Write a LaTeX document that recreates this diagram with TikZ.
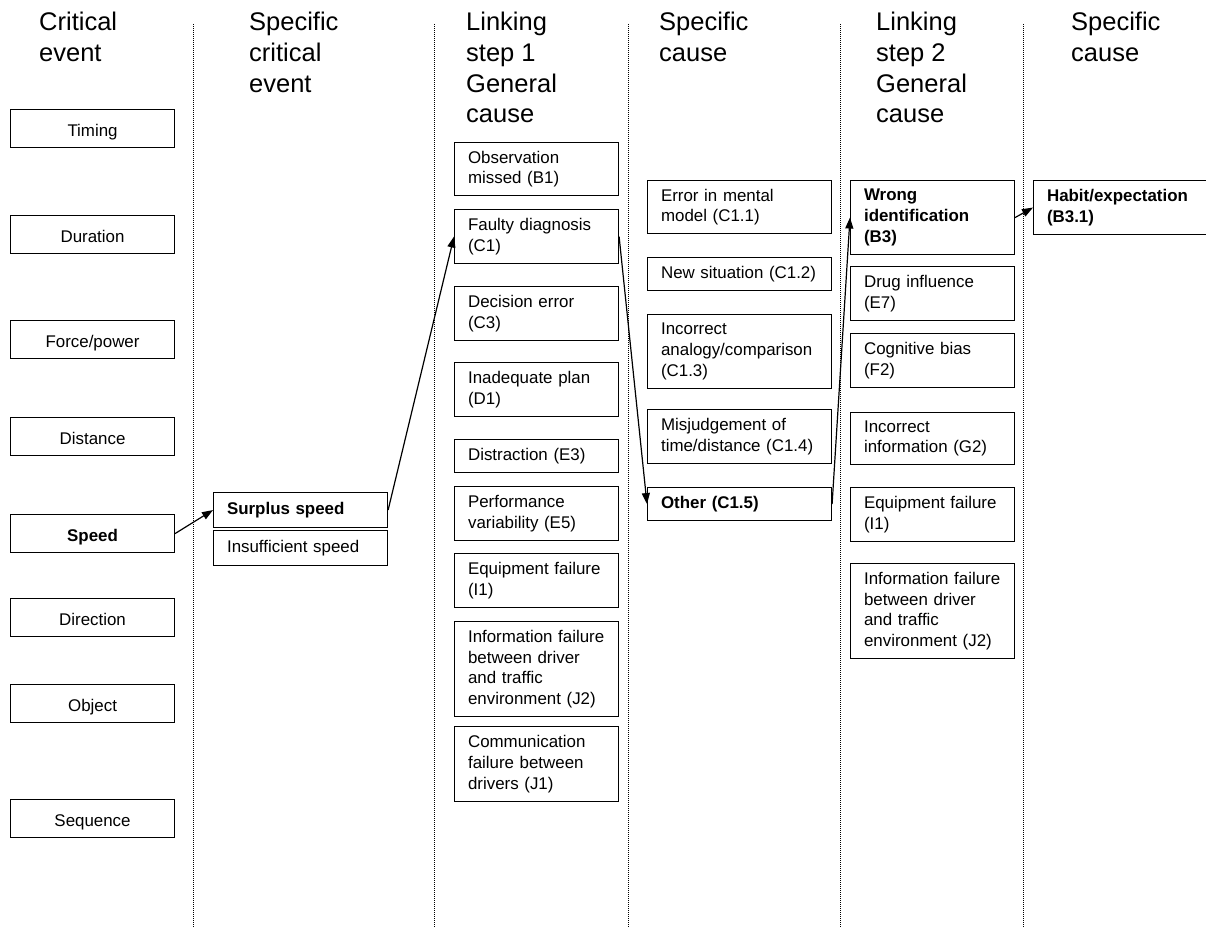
\documentclass[tikz,border=0pt]{standalone}
\usepackage{fontspec}
\setmainfont{Liberation Sans}
\usetikzlibrary{arrows.meta,positioning}
\newcommand{\boxfont}{\fontsize{16.9}{20.7}\selectfont}
\newcommand{\headfont}{\fontsize{25.5}{30.7}\selectfont}
\tikzset{
  head/.style={anchor=north west,align=left,inner sep=0pt,font=\headfont},
  event/.style={draw,line width=1.1pt,anchor=north west,minimum width=164pt,minimum height=38pt,inner sep=0pt,text height=17pt,text depth=2pt,font=\boxfont},
  cause/.style={draw,line width=1.1pt,anchor=north west,align=left,inner xsep=13.5pt,inner ysep=0pt,text width=#1,font=\boxfont},
  cause/.default=137pt,
  divider/.style={line width=1pt,dash pattern=on 1pt off 1pt},
  link/.style={-{Triangle[length=11pt,width=8pt]},line width=1.2pt}
}

\begin{document}
\begin{tikzpicture}[x=1pt,y=-1pt]
  \useasboundingbox (0,0) rectangle (1206,928);

  % column heads
  \node[head] (hcrit) at (39,12) {Critical\\event};
  \node[head] (hspec) at (249,12) {Specific\\critical\\event};
  \node[head] (hlinkone) at (466,12) {Linking\\step 1\\General\\cause};
  \node[head] (hcauseone) at (659,12) {Specific\\cause};
  \node[head] (hlinktwo) at (876,12) {Linking\\step 2\\General\\cause};
  \node[head] (hcausetwo) at (1071,12) {Specific\\cause};

  \foreach \x in {193,434,628,840,1023}
    \draw[divider] (\x,24) -- (\x,928);

  % critical events
  \node[event] (timing) at (10,109) {Timing};
  \node[event] (duration) at (10,215) {Duration};
  \node[event] (force) at (10,320) {Force/power};
  \node[event] (distance) at (10,417) {Distance};
  \node[event] (speed) at (10,514) {\bfseries Speed};
  \node[event] (direction) at (10,598) {Direction};
  \node[event] (object) at (10,684) {Object};
  \node[event] (sequence) at (10,799) {Sequence};

  % specific critical events
  \node[cause=147pt,minimum height=35pt] (surplus) at (213,492) {\bfseries Surplus speed};
  \node[cause=147pt,minimum height=35pt] (insufficient) at (213,530) {Insufficient speed};

  % linking step 1
  \node[cause,minimum height=53pt] (observ) at (454,142) {Observation\\missed (B1)};
  \node[cause,minimum height=54pt] (faulty) at (454,209) {Faulty diagnosis\\(C1)};
  \node[cause,minimum height=54pt] (decision) at (454,286) {Decision error\\(C3)};
  \node[cause,minimum height=54pt] (plan) at (454,362) {Inadequate plan\\(D1)};
  \node[cause,minimum height=33pt] (distract) at (454,439) {Distraction (E3)};
  \node[cause,minimum height=54pt] (perform) at (454,486) {Performance\\variability (E5)};
  \node[cause,minimum height=54pt] (equipone) at (454,553) {Equipment failure\\(I1)};
  \node[cause,minimum height=95pt] (infoone) at (454,621) {Information failure\\between driver\\and traffic\\environment (J2)};
  \node[cause,minimum height=75pt] (commfail) at (454,726) {Communication\\failure between\\drivers (J1)};

  % specific causes of C1
  \node[cause=157pt,minimum height=53pt] (mental) at (647,180) {Error in mental\\model (C1.1)};
  \node[cause=157pt,minimum height=33pt] (newsit) at (647,257) {New situation (C1.2)};
  \node[cause=157pt,minimum height=74pt] (analogy) at (647,314) {Incorrect\\analogy/comparison\\(C1.3)};
  \node[cause=157pt,minimum height=54pt] (misjudge) at (647,409) {Misjudgement of\\time/distance (C1.4)};
  \node[cause=157pt,minimum height=33pt] (other) at (647,487) {\bfseries Other (C1.5)};

  % linking step 2
  \node[cause,minimum height=74pt] (wrongid) at (850,180) {\bfseries Wrong\\\bfseries identification\\\bfseries (B3)};
  \node[cause,minimum height=54pt] (drug) at (850,266) {Drug influence\\(E7)};
  \node[cause,minimum height=54pt] (bias) at (850,333) {Cognitive bias\\(F2)};
  \node[cause,minimum height=52pt] (incinfo) at (850,412) {Incorrect\\information (G2)};
  \node[cause,minimum height=54pt] (equiptwo) at (850,487) {Equipment failure\\(I1)};
  \node[cause,minimum height=95pt] (infotwo) at (850,563) {Information failure\\between driver\\and traffic\\environment (J2)};

  % specific cause of B3
  \node[cause=150pt,minimum height=54pt] (habit) at (1033,180) {\bfseries Habit/expectation\\\bfseries (B3.1)};

  \draw[link] (speed.east) -- (surplus.west);
  \draw[link] (surplus.east) -- (faulty.west);
  \draw[link] (faulty.east) -- (other.west);
  \draw[link] (other.east) -- (wrongid.west);
  \draw[link] (wrongid.east) -- (habit.west);
\end{tikzpicture}
\end{document}
